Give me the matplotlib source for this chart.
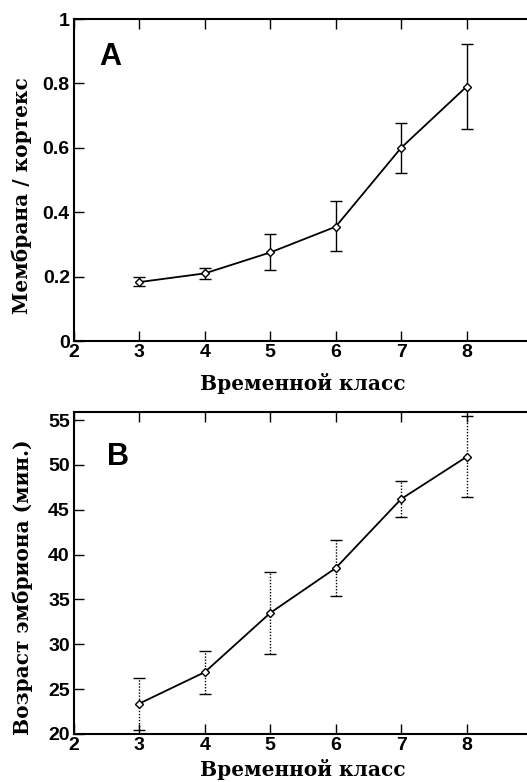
import numpy as np
import matplotlib.pyplot as plt

# временной класс
classes = [3, 4, 5, 6, 7, 8]

# A: мембрана / кортекс
ratio = [0.183, 0.210, 0.275, 0.355, 0.600, 0.790]
ratio_lo = [0.170, 0.193, 0.220, 0.278, 0.522, 0.658]
ratio_hi = [0.198, 0.228, 0.333, 0.435, 0.677, 0.922]

# B: возраст эмбриона, мин
age = [23.4, 26.9, 33.5, 38.5, 46.2, 50.9]
age_lo = [20.5, 24.5, 28.9, 35.4, 44.2, 46.4]
age_hi = [26.2, 29.2, 38.1, 41.6, 48.2, 55.4]

tick_font = dict(family='Liberation Sans', weight='bold', size=14)
label_font = dict(family='DejaVu Serif', weight='bold', size=14.5)

fig = plt.figure(figsize=(5.27, 7.82), dpi=100)
ax1 = fig.add_axes([74/527, 1-341/782, 458/527, 322/782])
ax2 = fig.add_axes([74/527, 1-734/782, 458/527, 322/782])


def style(ax, yticks, ylabels=None):
    ax.set_xlim(2, 9)
    ax.set_xticks([2, 3, 4, 5, 6, 7, 8])
    ax.set_yticks(yticks)
    if ylabels is not None:
        ax.set_yticklabels(ylabels)
    ax.tick_params(direction='in', length=7, width=1, top=True, right=False,
                   pad=3)
    ax.tick_params(axis='x', pad=2)
    for lbl in ax.get_xticklabels() + ax.get_yticklabels():
        lbl.set_fontproperties(tick_font)
    for s in ax.spines.values():
        s.set_linewidth(1.5)
    ax.spines['right'].set_visible(False)


def draw(ax, y, lo, hi, dotted):
    yerr = [np.array(y) - np.array(lo), np.array(hi) - np.array(y)]
    ax.plot(classes, y, color='black', lw=1.3, marker='D', ms=4.5,
            mfc='white', mec='black', mew=1.0, zorder=3)
    eb = ax.errorbar(classes, y, yerr=yerr, fmt='none', ecolor='black',
                     elinewidth=1, capsize=4, capthick=1, zorder=2)
    if dotted:
        eb[2][0].set_linestyle((0, (1, 1.2)))


draw(ax1, ratio, ratio_lo, ratio_hi, False)
ax1.set_ylim(0, 1)
style(ax1, [0, 0.2, 0.4, 0.6, 0.8, 1], ['0', '0.2', '0.4', '0.6', '0.8', '1'])
ax1.set_xlabel('Временной класс', fontdict=label_font, labelpad=9)
ax1.set_ylabel('Мембрана / кортекс', fontdict=label_font)
ax1.yaxis.set_label_coords(-0.092, 0.453)
ax1.text(0.055, 0.857, 'A', transform=ax1.transAxes, family='Liberation Sans',
         weight='bold', size=22)

draw(ax2, age, age_lo, age_hi, True)
ax2.set_ylim(20, 55.9)
style(ax2, [20, 25, 30, 35, 40, 45, 50, 55])
ax2.set_xlabel('Временной класс', fontdict=label_font, labelpad=4)
ax2.set_ylabel('Возраст эмбриона (мин.)', fontdict=label_font)
ax2.yaxis.set_label_coords(-0.09, 0.457)
ax2.text(0.072, 0.835, 'B', transform=ax2.transAxes, family='Liberation Sans',
         weight='bold', size=22)

fig.savefig('out.png', dpi=100)
